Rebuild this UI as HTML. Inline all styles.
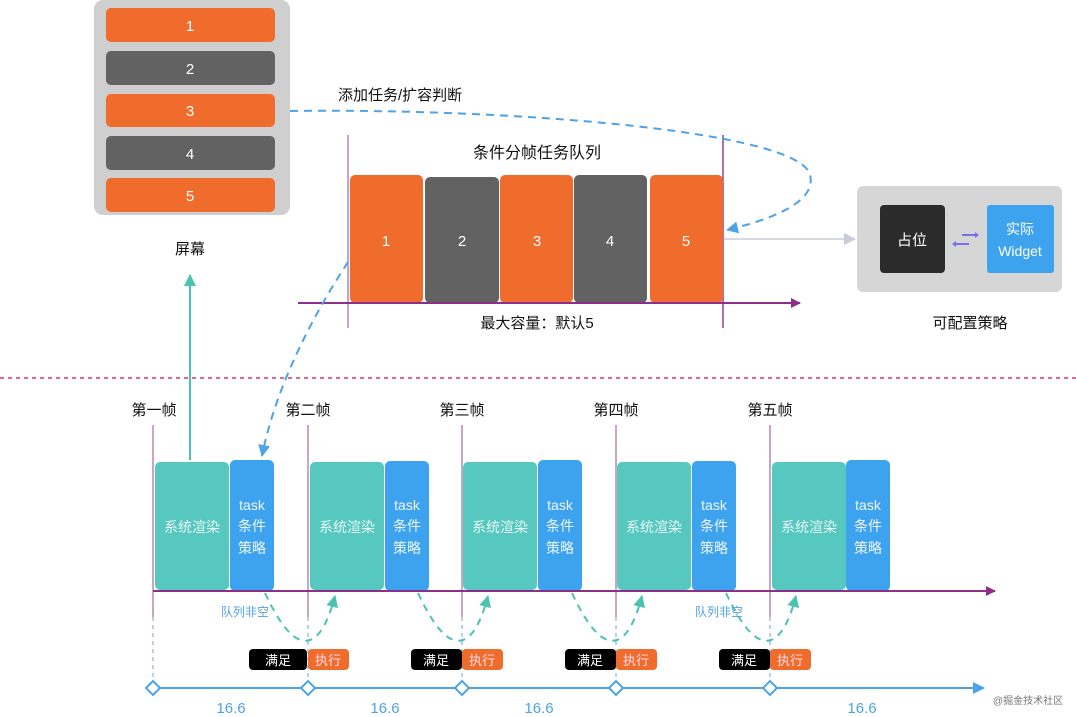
<!DOCTYPE html>
<html><head><meta charset="utf-8"><style>
body{margin:0;background:#fff}
svg{display:block}
text{font-family:"Liberation Sans","Noto Sans CJK SC",sans-serif}
</style></head><body>
<svg width="1076" height="717" viewBox="0 0 1076 717" xmlns="http://www.w3.org/2000/svg">
<defs>
<marker id="ap" markerWidth="10" markerHeight="10" refX="9" refY="5" orient="auto" markerUnits="userSpaceOnUse"><path d="M0,0 L10,5 L0,10 z" fill="#8b2f8b"/></marker>
<marker id="ab" markerWidth="12" markerHeight="12" refX="11" refY="6" orient="auto" markerUnits="userSpaceOnUse"><path d="M0,0 L12,6 L0,12 z" fill="#4da3e8"/></marker>
<marker id="ag" markerWidth="12" markerHeight="12" refX="11" refY="6" orient="auto" markerUnits="userSpaceOnUse"><path d="M0,0 L12,6 L0,12 z" fill="#4cc3b1"/></marker>
<marker id="agr" markerWidth="12" markerHeight="12" refX="11" refY="6" orient="auto" markerUnits="userSpaceOnUse"><path d="M0,0 L12,6 L0,12 z" fill="#c8ccd8"/></marker>
</defs>

<!-- screen panel -->
<rect x="94" y="0" width="196" height="215" rx="9" fill="#cfcfcf"/>
<g font-size="15" fill="#fff" text-anchor="middle">
<rect x="106" y="8" width="169" height="34" rx="5" fill="#ef6c2c"/><text x="190" y="31">1</text>
<rect x="106" y="51" width="169" height="34" rx="5" fill="#626262"/><text x="190" y="74">2</text>
<rect x="106" y="94" width="169" height="33" rx="5" fill="#ef6c2c"/><text x="190" y="116">3</text>
<rect x="106" y="136" width="169" height="34" rx="5" fill="#626262"/><text x="190" y="159">4</text>
<rect x="106" y="178" width="169" height="34" rx="5" fill="#ef6c2c"/><text x="190" y="201">5</text>
</g>
<text x="190" y="254" font-size="15" text-anchor="middle" fill="#111">屏幕</text>
<line x1="190" y1="460" x2="190" y2="275" stroke="#4cc3b1" stroke-width="2" marker-end="url(#ag)"/>

<!-- queue -->
<text x="537" y="158" font-size="16" text-anchor="middle" fill="#111">条件分帧任务队列</text>
<line x1="348" y1="135" x2="348" y2="328" stroke="#b48ab4" stroke-width="1.5"/>
<line x1="723" y1="135" x2="723" y2="328" stroke="#9b3b9b" stroke-width="1.5"/>
<g font-size="15" fill="#fff" text-anchor="middle">
<rect x="350" y="175" width="73" height="128" rx="5" fill="#ef6c2c"/><text x="386" y="246">1</text>
<rect x="425" y="177" width="74" height="126" rx="5" fill="#626262"/><text x="462" y="246">2</text>
<rect x="500" y="175" width="73" height="128" rx="5" fill="#ef6c2c"/><text x="537" y="246">3</text>
<rect x="574" y="175" width="73" height="128" rx="5" fill="#626262"/><text x="610" y="246">4</text>
<rect x="650" y="175" width="73" height="128" rx="5" fill="#ef6c2c"/><text x="686" y="246">5</text>
</g>
<line x1="298" y1="303" x2="800" y2="303" stroke="#8b2f8b" stroke-width="2" marker-end="url(#ap)"/>
<text x="537" y="328" font-size="15" text-anchor="middle" fill="#111">最大容量：默认5</text>

<text x="338" y="100" font-size="15" fill="#111">添加任务/扩容判断</text>
<path d="M290,111 C500,108 800,130 810,175 C818,205 760,222 727,230" fill="none" stroke="#4da3e8" stroke-width="2" stroke-dasharray="8,6" marker-end="url(#ab)"/>
<path d="M348,262 C310,320 275,390 262,456" fill="none" stroke="#4da3e8" stroke-width="2" stroke-dasharray="8,6" marker-end="url(#ab)"/>

<!-- right panel -->
<line x1="724" y1="239" x2="855" y2="239" stroke="#c8ccd8" stroke-width="1.5" marker-end="url(#agr)"/>
<rect x="857" y="186" width="205" height="106" rx="6" fill="#d6d6d6"/>
<rect x="880" y="205" width="65" height="68" rx="4" fill="#2b2b2b"/>
<text x="912" y="245" font-size="15" fill="#fff" text-anchor="middle">占位</text>
<rect x="987" y="205" width="67" height="68" rx="3" fill="#3ea3ee"/>
<text x="1020" y="234" font-size="14" fill="#fff" text-anchor="middle">实际</text>
<text x="1020" y="256" font-size="14" fill="#fff" text-anchor="middle">Widget</text>
<path d="M962,235 L975,235" stroke="#7a6ff0" stroke-width="2"/><path d="M975,232 L979,235 L975,238z" fill="#7a6ff0"/>
<path d="M956,244 L969,244" stroke="#7a6ff0" stroke-width="2"/><path d="M956,241 L952,244 L956,247z" fill="#7a6ff0"/>
<text x="970" y="328" font-size="15" text-anchor="middle" fill="#111">可配置策略</text>

<line x1="0" y1="378" x2="1076" y2="378" stroke="#d9366b" stroke-width="1.5" stroke-dasharray="4,4"/>

<!-- frames -->
<g font-size="15" fill="#111" text-anchor="middle">
<text x="154" y="415">第一帧</text><text x="308" y="415">第二帧</text><text x="462" y="415">第三帧</text><text x="616" y="415">第四帧</text><text x="770" y="415">第五帧</text>
</g>
<g stroke="#b48ab4" stroke-width="1.5">
<line x1="153" y1="425" x2="153" y2="617"/><line x1="308" y1="425" x2="308" y2="617"/><line x1="462" y1="425" x2="462" y2="617"/><line x1="616" y1="425" x2="616" y2="617"/><line x1="770" y1="425" x2="770" y2="617"/>
</g>
<g stroke="#9cc4e4" stroke-width="1.5" stroke-dasharray="4,4">
<line x1="153" y1="617" x2="153" y2="686"/><line x1="308" y1="617" x2="308" y2="686"/><line x1="462" y1="617" x2="462" y2="686"/><line x1="616" y1="617" x2="616" y2="686"/><line x1="770" y1="617" x2="770" y2="686"/>
</g>

<g font-size="14" fill="#e8f6f4" text-anchor="middle">
<rect x="155" y="462" width="74" height="128" rx="5" fill="#56c8c0"/><text x="192" y="532">系统渲染</text>
<rect x="310" y="462" width="74" height="128" rx="5" fill="#56c8c0"/><text x="347" y="532">系统渲染</text>
<rect x="463" y="462" width="74" height="128" rx="5" fill="#56c8c0"/><text x="500" y="532">系统渲染</text>
<rect x="617" y="462" width="74" height="128" rx="5" fill="#56c8c0"/><text x="654" y="532">系统渲染</text>
<rect x="772" y="462" width="74" height="128" rx="5" fill="#56c8c0"/><text x="809" y="532">系统渲染</text>
</g>
<g font-size="14" fill="#eef6ff" text-anchor="middle">
<g><rect x="230" y="460" width="44" height="131" rx="5" fill="#3ea3ee"/><text x="252" y="510">task</text><text x="252" y="531">条件</text><text x="252" y="553">策略</text></g>
<g><rect x="385" y="461" width="44" height="130" rx="5" fill="#3ea3ee"/><text x="407" y="510">task</text><text x="407" y="531">条件</text><text x="407" y="553">策略</text></g>
<g><rect x="538" y="460" width="44" height="131" rx="5" fill="#3ea3ee"/><text x="560" y="510">task</text><text x="560" y="531">条件</text><text x="560" y="553">策略</text></g>
<g><rect x="692" y="461" width="44" height="130" rx="5" fill="#3ea3ee"/><text x="714" y="510">task</text><text x="714" y="531">条件</text><text x="714" y="553">策略</text></g>
<g><rect x="846" y="460" width="44" height="131" rx="5" fill="#3ea3ee"/><text x="868" y="510">task</text><text x="868" y="531">条件</text><text x="868" y="553">策略</text></g>
</g>
<line x1="153" y1="591" x2="995" y2="591" stroke="#8b2f8b" stroke-width="2" marker-end="url(#ap)"/>

<g fill="none" stroke="#4cc3b1" stroke-width="2" stroke-dasharray="7,6">
<path d="M265,593 C280,625 295,645 310,640 C322,636 330,615 335,596" marker-end="url(#ag)"/>
<path d="M418,593 C433,625 448,645 463,640 C475,636 483,615 488,596" marker-end="url(#ag)"/>
<path d="M572,593 C587,625 602,645 617,640 C629,636 637,615 642,596" marker-end="url(#ag)"/>
<path d="M726,593 C741,625 756,645 771,640 C783,636 791,615 796,596" marker-end="url(#ag)"/>
</g>
<text x="245" y="616" font-size="12" text-anchor="middle" fill="#4da3e8">队列非空</text>
<text x="719" y="616" font-size="12" text-anchor="middle" fill="#4da3e8">队列非空</text>

<g font-size="13" text-anchor="middle">
<g><rect x="249" y="649" width="58" height="21" rx="4" fill="#000"/><text x="278" y="665" fill="#fff">满足</text><rect x="308" y="649" width="41" height="21" rx="4" fill="#ef6c2c"/><text x="328" y="665" fill="#fde">执行</text></g>
<g><rect x="411" y="649" width="51" height="21" rx="4" fill="#000"/><text x="436" y="665" fill="#fff">满足</text><rect x="462" y="649" width="41" height="21" rx="4" fill="#ef6c2c"/><text x="482" y="665" fill="#fde">执行</text></g>
<g><rect x="565" y="649" width="51" height="21" rx="4" fill="#000"/><text x="590" y="665" fill="#fff">满足</text><rect x="616" y="649" width="41" height="21" rx="4" fill="#ef6c2c"/><text x="636" y="665" fill="#fde">执行</text></g>
<g><rect x="719" y="649" width="51" height="21" rx="4" fill="#000"/><text x="744" y="665" fill="#fff">满足</text><rect x="770" y="649" width="41" height="21" rx="4" fill="#ef6c2c"/><text x="790" y="665" fill="#fde">执行</text></g>
</g>

<line x1="153" y1="688" x2="984" y2="688" stroke="#4da3e8" stroke-width="2" marker-end="url(#ab)"/>
<g fill="#fff" stroke="#4da3e8" stroke-width="2">
<path d="M146,688 L153,681 L160,688 L153,695z"/><path d="M301,688 L308,681 L315,688 L308,695z"/><path d="M455,688 L462,681 L469,688 L462,695z"/><path d="M609,688 L616,681 L623,688 L616,695z"/><path d="M763,688 L770,681 L777,688 L770,695z"/>
</g>
<g font-size="15" fill="#4da3e8" text-anchor="middle">
<text x="231" y="713">16.6</text><text x="385" y="713">16.6</text><text x="539" y="713">16.6</text><text x="862" y="713">16.6</text>
</g>
<text x="1028" y="704" font-size="10" fill="#777" text-anchor="middle">@掘金技术社区</text>
</svg>
</body></html>
